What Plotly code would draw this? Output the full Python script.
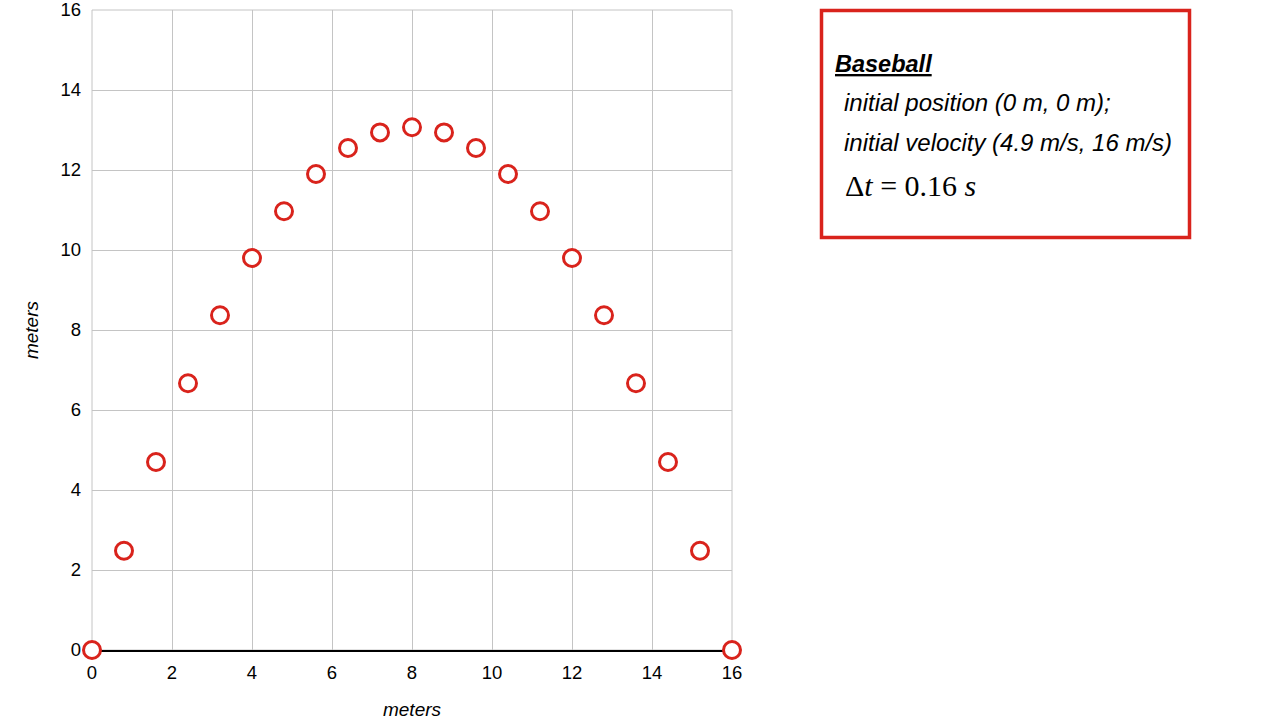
import plotly.graph_objects as go

x_vals = [0, 0.8, 1.6, 2.4, 3.2, 4.0, 4.8, 5.6, 6.4, 7.2, 8.0,
          8.8, 9.6, 10.4, 11.2, 12.0, 12.8, 13.6, 14.4, 15.2, 16.0]
y_vals = [0, 2.48, 4.7, 6.67, 8.37, 9.8, 10.97, 11.9, 12.55, 12.94, 13.07,
          12.94, 12.55, 11.9, 10.97, 9.8, 8.37, 6.67, 4.7, 2.48, 0]
tick_vals = [0, 2, 4, 6, 8, 10, 12, 14, 16]

RED = "#d9231c"
GRID = "#c4c4c4"
FONT = "Liberation Sans"

fig = go.Figure()
fig.add_trace(go.Scatter(
    x=x_vals, y=y_vals, mode="markers", cliponaxis=False,
    marker=dict(symbol="circle", size=17, color="white",
                line=dict(color=RED, width=3)),
    showlegend=False,
))

axis_common = dict(
    range=[0, 16], tickvals=tick_vals, showgrid=True, gridcolor=GRID,
    gridwidth=1, zeroline=False, ticks="", tickfont=dict(family=FONT, size=18.5, color="black"),
    fixedrange=True, automargin=False, ticklabeloverflow="allow", layer="below traces",
)
fig.update_xaxes(**axis_common, showline=True, linecolor="black", linewidth=1.5,
                 ticklabelstandoff=5,
                 title=dict(text="<i>meters</i>", font=dict(family=FONT, size=19, color="black"),
                            standoff=23))
fig.update_yaxes(**axis_common, showline=False, ticklabelstandoff=10,
                 title=dict(text="<i>meters</i>", font=dict(family=FONT, size=19, color="black"),
                            standoff=16))

# plot-area frame (grid lines at the range edges)
fig.add_shape(type="rect", xref="x domain", yref="y domain", x0=0, x1=1, y0=0, y1=1,
              line=dict(color=GRID, width=1), layer="below")

fig.add_shape(type="rect", xref="paper", yref="paper",
              x0=(821.5 - 92) / 640, x1=(1189.5 - 92) / 640,
              y0=(650 - 237.5) / 640, y1=(650 - 10.5) / 640,
              line=dict(color=RED, width=3.5), fillcolor="rgba(0,0,0,0)")

def px_x(px):
    return (px - 92) / 640

def px_y(py):
    return (650 - py) / 640

fig.add_annotation(xref="paper", yref="paper", x=px_x(833), y=px_y(64), xanchor="left",
                   yanchor="middle", showarrow=False,
                   text="<b><i><u>Baseball</u></i></b>", font=dict(family=FONT, size=23.5, color="black"))
fig.add_annotation(xref="paper", yref="paper", x=px_x(842), y=px_y(103), xanchor="left",
                   yanchor="middle", showarrow=False,
                   text="<i>initial position (0 m, 0 m);</i>", font=dict(family=FONT, size=24, color="black"))
fig.add_annotation(xref="paper", yref="paper", x=px_x(842), y=px_y(142), xanchor="left",
                   yanchor="middle", showarrow=False,
                   text="<i>initial velocity (4.9 m/s, 16 m/s)</i>", font=dict(family=FONT, size=24, color="black"))
fig.add_annotation(xref="paper", yref="paper", x=px_x(843), y=px_y(185), xanchor="left",
                   yanchor="middle", showarrow=False,
                   text="Δ<i>t</i> = 0.16 <i>s</i>", font=dict(family="Liberation Serif", size=30, color="black"))

fig.update_layout(
    width=1280, height=720, autosize=False,
    margin=dict(l=92, r=548, t=10, b=70),
    plot_bgcolor="white", paper_bgcolor="white",
)

fig.write_html("out.html")
